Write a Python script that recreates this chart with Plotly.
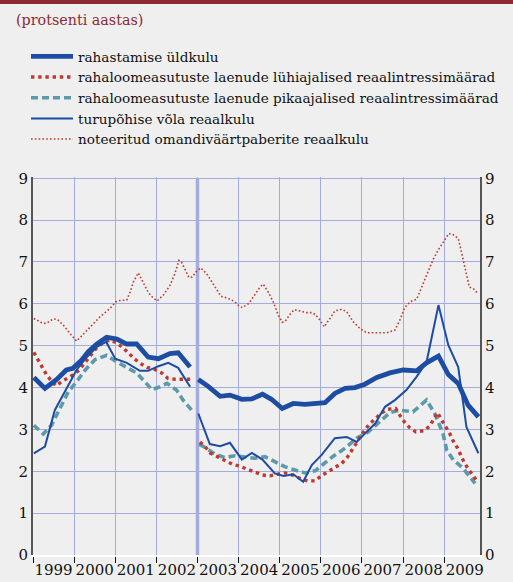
import plotly.graph_objects as go

# ---------------- data (decimal years, percent per year) ----------------
years = list(range(1999, 2010))
year_labels = [str(y) for y in years]
y_levels = list(range(0, 10))

total_x = [1999.02, 1999.29, 1999.57, 1999.81, 1999.97, 2000.18, 2000.34, 2000.55, 2000.79,
           2001.04, 2001.28, 2001.52, 2001.80, 2002.05, 2002.33, 2002.53, 2002.82, None,
           2003.02, 2003.26, 2003.55, 2003.79, 2004.08, 2004.32, 2004.58, 2004.80, 2005.06,
           2005.33, 2005.61, 2005.86, 2006.10, 2006.34, 2006.59, 2006.83, 2007.07, 2007.36,
           2007.68, 2008.00, 2008.33, 2008.57, 2008.86, 2009.10, 2009.34, 2009.58, 2009.83]
total_y = [4.24, 3.98, 4.19, 4.42, 4.46, 4.65, 4.85, 5.04, 5.20,
           5.16, 5.04, 5.04, 4.73, 4.69, 4.81, 4.83, 4.49, None,
           4.19, 4.03, 3.79, 3.82, 3.72, 3.73, 3.84, 3.72, 3.50,
           3.62, 3.60, 3.62, 3.64, 3.86, 3.98, 4.00, 4.08, 4.24,
           4.35, 4.42, 4.40, 4.59, 4.75, 4.31, 4.10, 3.58, 3.30]

short_x = [1999.02, 1999.13, 1999.21, 1999.32, 1999.43, 1999.56, 1999.71, 1999.88, 2000.04,
           2000.17, 2000.29, 2000.41, 2000.53, 2000.67, 2000.85, 2001.02, 2001.18, 2001.34,
           2001.46, 2001.62, 2001.78, 2001.97, 2002.13, 2002.28, 2002.45, 2002.67, 2002.85, None,
           2003.06, 2003.20, 2003.32, 2003.49, 2003.67, 2003.85, 2004.03, 2004.21, 2004.40,
           2004.58, 2004.76, 2004.95, 2005.13, 2005.31, 2005.49, 2005.68, 2005.86, 2006.02,
           2006.18, 2006.34, 2006.51, 2006.64, 2006.75, 2006.85, 2006.95, 2007.06, 2007.18,
           2007.33, 2007.46, 2007.62, 2007.82, 2007.92, 2008.03, 2008.15, 2008.31, 2008.51,
           2008.65, 2008.75, 2008.84, 2008.94, 2009.04, 2009.14, 2009.22, 2009.32, 2009.40,
           2009.49, 2009.59, 2009.71, 2009.81]
short_y = [4.84, 4.65, 4.49, 4.32, 4.18, 4.04, 4.15, 4.26, 4.34,
           4.48, 4.64, 4.79, 4.93, 5.05, 5.13, 5.08, 4.96, 4.81,
           4.69, 4.57, 4.48, 4.43, 4.35, 4.22, 4.20, 4.20, 4.20, None,
           2.70, 2.57, 2.43, 2.35, 2.27, 2.17, 2.12, 2.06, 1.98,
           1.91, 1.89, 1.93, 1.96, 1.91, 1.83, 1.77, 1.77, 1.90,
           1.99, 2.08, 2.19, 2.33, 2.49, 2.65, 2.82, 2.98, 3.13,
           3.26, 3.38, 3.48, 3.50, 3.34, 3.18, 3.05, 2.94, 2.97,
           3.08, 3.26, 3.40, 3.22, 3.06, 2.89, 2.72, 2.56, 2.39,
           2.20, 2.05, 1.89, 1.75]

long_x = [1999.02, 1999.25, 1999.45, 1999.66, 1999.86, 2000.06, 2000.27, 2000.51, 2000.79,
          2001.04, 2001.28, 2001.52, 2001.72, 2001.89, 2002.09, 2002.26, 2002.49, 2002.65,
          2002.86, None,
          2003.04, 2003.22, 2003.42, 2003.67, 2003.91, 2004.15, 2004.40, 2004.64, 2004.88,
          2005.12, 2005.37, 2005.61, 2005.86, 2006.10, 2006.30, 2006.59, 2006.87, 2007.15,
          2007.44, 2007.68, 2007.92, 2008.24, 2008.57, 2008.77, 2008.97, 2009.06, 2009.22,
          2009.46, 2009.75]
long_y = [3.10, 2.89, 3.10, 3.50, 3.90, 4.14, 4.42, 4.67, 4.77,
          4.61, 4.49, 4.35, 4.14, 3.95, 4.02, 4.10, 3.94, 3.70,
          3.46, None,
          2.65, 2.55, 2.41, 2.33, 2.37, 2.35, 2.31, 2.35, 2.23,
          2.11, 2.03, 1.96, 2.01, 2.19, 2.36, 2.55, 2.79, 2.94,
          3.18, 3.40, 3.46, 3.42, 3.70, 3.38, 2.90, 2.51, 2.27,
          2.07, 1.71]

market_x = [1999.02, 1999.29, 1999.53, 1999.82, 2000.06, 2000.31, 2000.55, 2000.78, 2001.00,
            2001.28, 2001.60, 2001.80, 2002.05, 2002.29, 2002.53, 2002.82, None,
            2003.02, 2003.30, 2003.55, 2003.79, 2004.08, 2004.32, 2004.58, 2004.88, 2005.09,
            2005.33, 2005.57, 2005.78, 2006.02, 2006.34, 2006.63, 2006.87, 2007.07, 2007.32,
            2007.56, 2007.80, 2008.08, 2008.33, 2008.57, 2008.86, 2009.10, 2009.34, 2009.54,
            2009.83]
market_y = [2.43, 2.59, 3.46, 3.98, 4.42, 4.73, 4.97, 5.09, 4.69,
            4.59, 4.40, 4.40, 4.51, 4.59, 4.47, 4.02, None,
            3.38, 2.65, 2.60, 2.68, 2.28, 2.44, 2.28, 1.95, 1.89,
            1.93, 1.75, 2.15, 2.39, 2.79, 2.82, 2.70, 2.90, 3.14,
            3.54, 3.70, 3.94, 4.26, 4.61, 5.97, 5.01, 4.49, 3.06,
            2.43]

equity_x = [1999.02, 1999.21, 1999.32, 1999.49, 1999.59, 1999.74, 1999.90, 2000.06, 2000.18,
            2000.39, 2000.63, 2000.87, 2001.02, 2001.12, 2001.28, 2001.36, 2001.44, 2001.56,
            2001.68, 2001.80, 2001.92, 2002.02, 2002.17, 2002.33, 2002.45, 2002.55, 2002.62,
            2002.70, 2002.79, 2002.87, 2002.96, 2003.08, 2003.22, 2003.34, 2003.47, 2003.57,
            2003.75, 2003.91, 2004.01, 2004.09, 2004.25, 2004.40, 2004.52, 2004.60, 2004.72,
            2004.84, 2004.96, 2005.06, 2005.13, 2005.25, 2005.35, 2005.49, 2005.65, 2005.78,
            2005.86, 2005.98, 2006.08, 2006.20, 2006.34, 2006.51, 2006.63, 2006.79, 2006.95,
            2007.11, 2007.36, 2007.60, 2007.80, 2007.92, 2008.04, 2008.17, 2008.33, 2008.45,
            2008.57, 2008.73, 2008.85, 2008.99, 2009.11, 2009.22, 2009.34, 2009.40, 2009.46,
            2009.54, 2009.61, 2009.71, 2009.80]
equity_y = [5.65, 5.55, 5.53, 5.64, 5.63, 5.49, 5.29, 5.11, 5.23,
            5.45, 5.69, 5.89, 6.05, 6.08, 6.09, 6.28, 6.52, 6.74,
            6.52, 6.28, 6.14, 6.07, 6.21, 6.44, 6.72, 7.04, 6.98,
            6.80, 6.63, 6.64, 6.76, 6.86, 6.72, 6.54, 6.32, 6.18,
            6.13, 6.05, 5.95, 5.91, 6.01, 6.21, 6.40, 6.47, 6.28,
            6.05, 5.74, 5.56, 5.58, 5.75, 5.86, 5.83, 5.79, 5.79,
            5.75, 5.61, 5.45, 5.62, 5.83, 5.87, 5.81, 5.57, 5.41,
            5.31, 5.31, 5.31, 5.37, 5.61, 5.91, 6.05, 6.11, 6.40,
            6.72, 7.06, 7.28, 7.50, 7.68, 7.65, 7.56, 7.32, 7.04,
            6.64, 6.40, 6.36, 6.26]

names = ["rahastamise üldkulu",
         "rahaloomeasutuste laenude lühiajalised reaalintressimäärad",
         "rahaloomeasutuste laenude pikaajalised reaalintressimäärad",
         "turupõhise võla reaalkulu",
         "noteeritud omandiväärtpaberite reaalkulu"]

BLUE = "#1d4ca3"
RED = "#c0392f"
TEAL = "#5c9aab"
GRID = "#a3abdf"
BG = "#efefef"
SERIF = "DejaVu Serif"

W, H = 513, 582
L, R, T, B = 33, 33, 177, 27
YMAX = 9.03          # tiny headroom so the top grid line at 9 is kept
ph = H - T - B


def py(p):
    return (H - B - p) / ph


def px(p):
    return (p - L) / (W - L - R)


fig = go.Figure()

# invisible trace so that the right-hand axis is a proper overlay subplot
fig.add_trace(go.Scatter(x=[years[0]], y=[0], yaxis="y2", mode="lines", showlegend=False,
                         hoverinfo="skip", line=dict(width=0)))

fig.add_trace(go.Scatter(x=equity_x, y=equity_y, mode="lines", name=names[4], legendrank=5,
                         line=dict(color=RED, width=1.6, dash="1.6px,2.2px")))
fig.add_trace(go.Scatter(x=long_x, y=long_y, mode="lines", name=names[2], legendrank=3,
                         line=dict(color=TEAL, width=3.6, dash="7px,4px")))
fig.add_trace(go.Scatter(x=short_x, y=short_y, mode="lines", name=names[1], legendrank=2,
                         line=dict(color=RED, width=3.4, dash="3.4px,3.8px")))
fig.add_trace(go.Scatter(x=market_x, y=market_y, mode="lines", name=names[3], legendrank=4,
                         line=dict(color=BLUE, width=2)))
fig.add_trace(go.Scatter(x=total_x, y=total_y, mode="lines", name=names[0], legendrank=1,
                         line=dict(color=BLUE, width=4.8)))

fig.add_shape(type="line", xref="x", yref="y", x0=2003, x1=2003, y0=0, y1=9,
              line=dict(color=GRID, width=3.5), layer="below")

fig.add_shape(type="rect", xref="paper", yref="paper", x0=px(0), x1=px(W),
              y0=py(4), y1=py(0), line=dict(width=0), fillcolor="#8c2a33")

fig.add_annotation(text="(protsenti aastas)", xref="paper", yref="paper",
                   x=px(14), y=py(20), xanchor="left", yanchor="middle", showarrow=False,
                   font=dict(family=SERIF, size=14.3, color="#8c2a33"))

tickfont = dict(family=SERIF, size=15, color="#111")

fig.update_layout(
    width=W, height=H,
    margin=dict(l=L, r=R, t=T, b=B, autoexpand=False),
    paper_bgcolor=BG, plot_bgcolor=BG,
    font=dict(family=SERIF),
    showlegend=True,
    legend=dict(x=px(26), y=py(41), xanchor="left", yanchor="top",
                bgcolor="rgba(0,0,0,0)", font=dict(family=SERIF, size=13.6, color="#111"),
                itemwidth=42),
    xaxis=dict(range=[1999, 2009.87], tickvals=[y + 0.5 for y in years], ticktext=year_labels,
               ticks="", showgrid=False, zeroline=False, automargin=False,
               showline=True, linecolor="white", linewidth=2,
               tickfont=tickfont,
               minor=dict(tick0=1999, dtick=1, showgrid=True, gridcolor=GRID, gridwidth=1,
                          ticks="outside", ticklen=6, tickcolor="#111", tickwidth=1)),
    # labels come from the major ticks (nudged by a hair), grid lines from the minor ticks
    yaxis=dict(range=[0, YMAX], tickvals=[v + 1e-6 for v in y_levels],
               ticktext=[str(v) for v in y_levels],
               showgrid=False, zeroline=False, showline=True, linecolor="#555", linewidth=2,
               automargin=False, ticks="", tickfont=tickfont,
               minor=dict(tick0=0, dtick=1, showgrid=True, gridcolor=GRID, gridwidth=1,
                          ticks="")),
    yaxis2=dict(range=[0, YMAX], tickvals=y_levels, ticktext=[str(v) for v in y_levels],
                overlaying="y", side="right", anchor="x",
                showgrid=False, zeroline=False, showline=True, linecolor="#555", linewidth=2,
                automargin=False, ticks="", tickfont=tickfont),
)

fig.write_html("out.html", config={"displayModeBar": False},
               post_script="document.body.style.margin='0px';")
